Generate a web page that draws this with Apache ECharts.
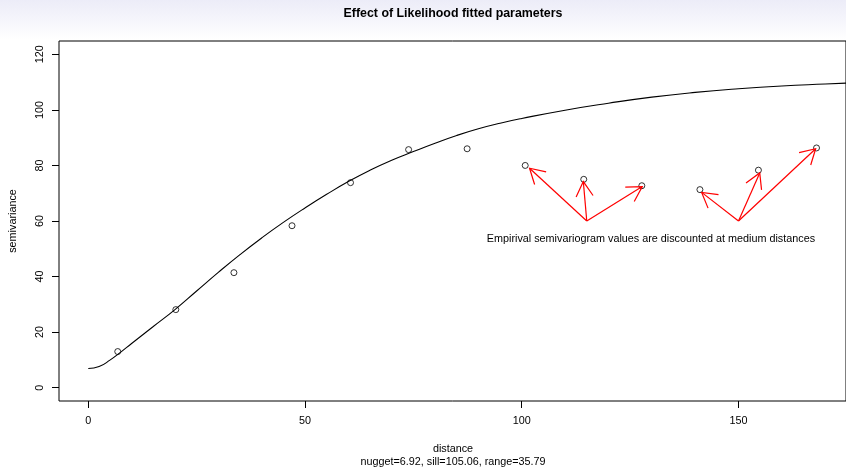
<!DOCTYPE html>
<html><head><meta charset="utf-8">
<script src="https://cdn.jsdelivr.net/npm/echarts@6/dist/echarts.min.js"></script>
<style>html,body{margin:0;padding:0;background:#fff}#c{width:846px;height:468px}</style>
</head><body><div id="c"></div>
<script>
// Empirical semivariogram (bin centres and values)
const binDistance = [6.8, 20.2, 33.6, 47.0, 60.5, 73.9, 87.4, 100.8, 114.3, 127.7, 141.1, 154.6, 168.0];
const binSemivariance = [13.0, 28.1, 41.4, 58.3, 73.8, 85.7, 86.0, 80.0, 75.0, 72.7, 71.3, 78.3, 86.3];

// Fitted model curve
const curveDistance = [0, 2.5, 5, 7.5, 10, 15, 20, 25, 30, 35, 40, 45, 50, 55, 60, 65, 70, 75, 80, 85, 90, 95, 100, 110, 120, 130, 140, 150, 160, 170, 176];
const curveSemivariance = [6.9, 7.6, 9.9, 12.8, 15.9, 22.0, 28.1, 34.8, 41.5, 47.9, 53.9, 59.5, 64.7, 69.6, 74.2, 78.3, 81.9, 85.0, 88.0, 90.8, 93.2, 95.2, 96.9, 99.9, 102.4, 104.6, 106.3, 107.6, 108.6, 109.3, 109.7];

// Arrows
const arrowStartX = [115, 115, 115, 150, 150, 150];
const arrowStartY = [60, 60, 60, 60, 60, 60];
const arrowEndX = [101.8, 114.2, 127.8, 141.5, 154.9, 167.8];
const arrowEndY = [79.0, 74.2, 72.4, 70.3, 77.3, 86.0];

// Annotation
const noteX = [129.8];
const noteY = [53.5];
const noteText = 'Empirival semivariogram values are discounted at medium distances';

// Axes
const xTicks = [0, 50, 100, 150];
const yTicks = [0, 20, 40, 60, 80, 100, 120];
const xMin = -6.75, xMax = 174.8;
const yMin = -4.8, yMax = 124.8;

const titleText = 'Effect of Likelihood fitted parameters';
const xLabel = 'distance';
const subLabel = 'nugget=6.92, sill=105.06, range=35.79';
const yLabel = 'semivariance';

const FONT = '"Liberation Sans", Arial, Helvetica, sans-serif';
const FS = 10.8;

const chart = echarts.init(document.getElementById('c'), null, {renderer: 'canvas'});

const curveData = curveDistance.map((d, i) => [d, curveSemivariance[i]]);
const pointData = binDistance.map((d, i) => [d, binSemivariance[i]]);
const arrowData = arrowStartX.map((x, i) => [x, arrowStartY[i], arrowEndX[i], arrowEndY[i]]);
const noteData = noteX.map((x, i) => [x, noteY[i]]);

chart.setOption({
  animation: false,
  backgroundColor: '#ffffff',
  textStyle: {fontFamily: FONT},
  graphic: [
    {type: 'rect', z: -10, shape: {x: 0, y: 0, width: 846, height: 40},
     style: {fill: new echarts.graphic.LinearGradient(0, 0, 0, 1, [
       {offset: 0, color: '#ececf8'}, {offset: 1, color: '#ffffff'}])}},
    {type: 'text', x: 453, y: 14, style: {text: titleText, fontFamily: FONT, fontSize: 12.4, fontWeight: 'bold', fill: '#000', align: 'center', verticalAlign: 'middle'}},
    {type: 'text', x: 453, y: 449, style: {text: xLabel, fontFamily: FONT, fontSize: FS, fill: '#000', align: 'center', verticalAlign: 'middle'}},
    {type: 'text', x: 453, y: 462, style: {text: subLabel, fontFamily: FONT, fontSize: FS, fill: '#000', align: 'center', verticalAlign: 'middle'}}
  ],
  grid: {left: 58, top: 41, width: 790, height: 360, show: true, borderColor: '#000', borderWidth: 1, backgroundColor: 'transparent'},
  xAxis: {
    type: 'value', min: xMin, max: xMax, position: 'bottom',
    axisLine: {show: false, onZero: false},
    splitLine: {show: false},
    axisTick: {show: true, inside: false, length: 7, customValues: xTicks, lineStyle: {color: '#000', width: 1}},
    axisLabel: {customValues: xTicks, margin: 15, color: '#000', fontSize: FS, fontFamily: FONT}
  },
  yAxis: {
    type: 'value', min: yMin, max: yMax, position: 'left',
    name: yLabel, nameLocation: 'middle', nameGap: 40,
    nameTextStyle: {color: '#000', fontSize: FS, fontFamily: FONT},
    axisLine: {show: false, onZero: false},
    splitLine: {show: false},
    axisTick: {show: true, inside: false, length: 7, customValues: yTicks, lineStyle: {color: '#000', width: 1}},
    axisLabel: {customValues: yTicks, rotate: 90, margin: 13, color: '#000', fontSize: FS, fontFamily: FONT}
  },
  series: [
    {type: 'line', data: curveData, smooth: true, showSymbol: false, symbol: 'none',
     lineStyle: {color: '#000', width: 1.1}, z: 2},
    {type: 'scatter', data: pointData, symbol: 'circle', symbolSize: 6,
     itemStyle: {color: 'rgba(0,0,0,0)', borderColor: '#000', borderWidth: 1}, z: 3},
    {type: 'custom', data: arrowData, encode: {x: [0, 2], y: [1, 3]}, z: 4,
     renderItem: function (params, api) {
       const p0 = api.coord([api.value(0), api.value(1)]);
       const p1 = api.coord([api.value(2), api.value(3)]);
       const ang = Math.atan2(p1[1] - p0[1], p1[0] - p0[0]);
       const L = 17, a = Math.PI / 6;
       const h1 = [p1[0] - L * Math.cos(ang - a), p1[1] - L * Math.sin(ang - a)];
       const h2 = [p1[0] - L * Math.cos(ang + a), p1[1] - L * Math.sin(ang + a)];
       return {type: 'group', children: [
         {type: 'line', shape: {x1: p0[0], y1: p0[1], x2: p1[0], y2: p1[1]}, style: {stroke: '#ff0000', lineWidth: 1.2}},
         {type: 'polyline', shape: {points: [h1, p1, h2]}, style: {stroke: '#ff0000', fill: null, lineWidth: 1.2}}
       ]};
     }},
    {type: 'custom', data: noteData, encode: {x: 0, y: 1}, z: 5,
     renderItem: function (params, api) {
       const p = api.coord([api.value(0), api.value(1)]);
       return {type: 'text', x: p[0], y: p[1], style: {text: noteText, fontFamily: FONT, fontSize: FS, fill: '#000', align: 'center', verticalAlign: 'middle'}};
     }}
  ]
});
</script>
</body></html>
